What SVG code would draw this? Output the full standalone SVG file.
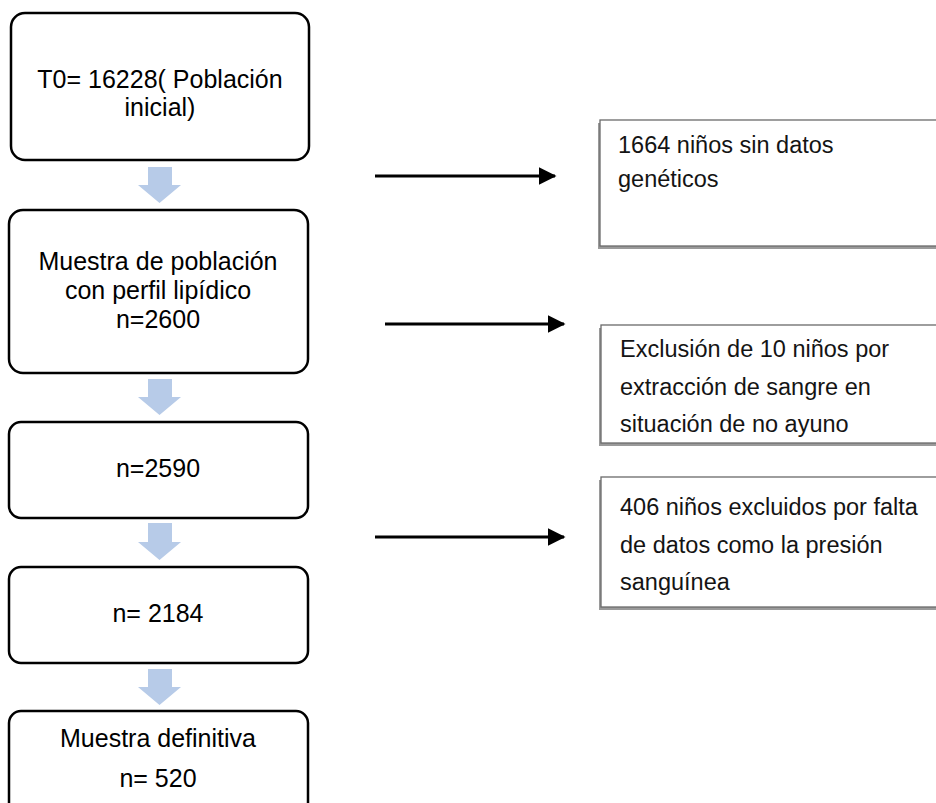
<svg xmlns="http://www.w3.org/2000/svg" width="936" height="803" viewBox="0 0 936 803">
<style>
.box{fill:#fff;stroke:#000;stroke-width:2.5}
.t{font-family:"Liberation Sans",Arial,sans-serif;font-size:25px;fill:#000;text-anchor:middle}
.rt{font-family:"Liberation Sans",Arial,sans-serif;font-size:23.5px;fill:#141414}
.rbox{fill:#fff;stroke:#6a6a6a;stroke-width:1.3}
.shadow{fill:#9a9a9a}
.blue{fill:#b7cbe8}
.conn{stroke:#000;stroke-width:3;fill:none}
</style>
<defs>
<marker id="ah" markerWidth="6" markerHeight="6" refX="5.5" refY="3" orient="auto" markerUnits="strokeWidth">
<path d="M0,0 L6,3 L0,6 Z" fill="#000"/>
</marker>
</defs>
<g id="n1">
<rect class="box" x="11" y="13" width="298" height="147" rx="14"/>
<text class="t" x="160" y="88">T0= 16228( Población</text>
<text class="t" x="160" y="116">inicial)</text>
</g>
<g id="n2">
<rect class="box" x="9" y="210" width="299" height="163" rx="14"/>
<text class="t" x="158" y="270">Muestra de población</text>
<text class="t" x="158" y="299">con perfil lipídico</text>
<text class="t" x="158" y="328">n=2600</text>
</g>
<g id="n3">
<rect class="box" x="9" y="422" width="299" height="96" rx="12"/>
<text class="t" x="158" y="477">n=2590</text>
</g>
<g id="n4">
<rect class="box" x="9" y="567" width="299" height="96" rx="12"/>
<text class="t" x="158" y="622">n= 2184</text>
</g>
<g id="n5">
<rect class="box" x="9" y="711" width="299" height="110" rx="12"/>
<text class="t" x="158" y="747">Muestra definitiva</text>
<text class="t" x="158" y="787">n= 520</text>
</g>
<g id="r1">
<rect class="shadow" x="598" y="123" width="350" height="126"/>
<rect class="rbox" x="600" y="120" width="350" height="126"/>
<text class="rt" x="618" y="153">1664 niños sin datos</text>
<text class="rt" x="618" y="187">genéticos</text>
</g>
<g id="r2">
<rect class="shadow" x="599" y="328" width="350" height="118"/>
<rect class="rbox" x="601" y="325" width="350" height="118"/>
<text class="rt" x="620" y="357">Exclusión de 10 niños por</text>
<text class="rt" x="620" y="395">extracción de sangre en</text>
<text class="rt" x="620" y="432">situación de no ayuno</text>
</g>
<g id="r3">
<rect class="shadow" x="599" y="480" width="350" height="130"/>
<rect class="rbox" x="601" y="477" width="350" height="130"/>
<text class="rt" x="620" y="515">406 niños excluidos por falta</text>
<text class="rt" x="620" y="553">de datos como la presión</text>
<text class="rt" x="620" y="590">sanguínea</text>
</g>
<g id="connectors">
<path class="blue" d="M148,167 H172 V185 H181 L159.5,203 L138,185 H148 Z"/>
<path class="blue" d="M148,379 H172 V397 H181 L159.5,415 L138,397 H148 Z"/>
<path class="blue" d="M148,523 H172 V542 H181 L159.5,560 L138,542 H148 Z"/>
<path class="blue" d="M148,669 H172 V687 H181 L159.5,705 L138,687 H148 Z"/>
<line class="conn" x1="375" y1="176" x2="555" y2="176" marker-end="url(#ah)"/>
<line class="conn" x1="385" y1="324" x2="564" y2="324" marker-end="url(#ah)"/>
<line class="conn" x1="375" y1="537" x2="564" y2="537" marker-end="url(#ah)"/>
</g>
</svg>
